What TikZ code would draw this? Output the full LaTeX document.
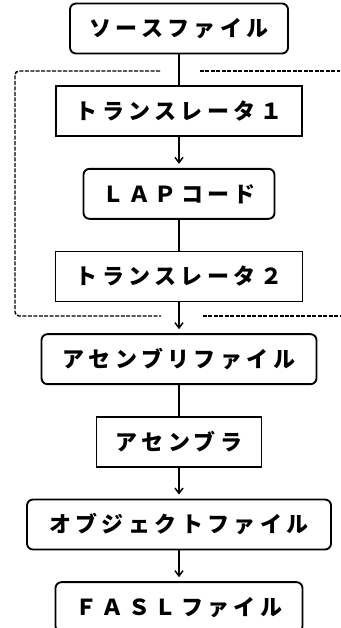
\documentclass[tikz,border=0pt]{standalone}
\usepackage{fontspec}
\newfontfamily\jpfont[LetterSpace=20]{Noto Sans CJK JP}
\usetikzlibrary{arrows.meta, positioning}

\begin{document}
\begin{tikzpicture}[ % Starts the TikZ drawing environment
        x=0.75pt, y=0.75pt, % One unit per pixel
        node distance=23.1pt, % Vertical gap between the boxes
        every node/.style={font=\jpfont\bfseries\fontsize{16.5}{20}\selectfont, inner sep=0pt, minimum height=37.5pt}, % Default style for all nodes
        filebox/.style={rectangle, rounded corners=4.5pt, draw, line width=1.4pt}, % Rounded boxes for files
        procbox/.style={rectangle, draw, line width=1.4pt}, % Square boxes for the programs
        myline/.style={line width=1.1pt}, % Plain connector
        myarrow/.style={line width=1.1pt, shorten >=3pt, -{Straight Barb[length=4pt, width=6pt]}}, % Connector with a head
        dashline/.style={line width=1.1pt, dash pattern=on 3pt off 1.1pt} % Frame round the translators
    ]
    \useasboundingbox (0,0) rectangle (340,-628);
    % --- TikZ Nodes (positioning and content) ---
    \node (src) [filebox, minimum width=163.5pt] at (179,-28.5) {ソースファイル};
    \node (tr1) [procbox, below=of src, minimum width=184.5pt] {トランスレータ１};
    \node (lap) [filebox, below=of tr1, minimum width=143.25pt] {ＬＡＰコード};
    \node (tr2) [procbox, below=of lap, minimum width=185.25pt] {トランスレータ２};
    \node (asmf) [filebox, below=of tr2, minimum width=206.25pt] {アセンブリファイル};
    \node (asm) [procbox, below=of asmf, minimum width=123.75pt] {アセンブラ};
    \node (obj) [filebox, below=of asm, minimum width=228pt] {オブジェクトファイル};
    \node (fasl) [filebox, below=of obj, minimum width=185.25pt] {ＦＡＳＬファイル};
    % --- Dashed frame ---
    \draw[dashline, rounded corners=3pt] (160,-71) -| (15,-316) -- (161,-316);
    \draw[dashline] (200,-71) -- (340,-71);
    \draw[dashline] (203,-316) -- (340,-316);
    % --- TikZ Connections ---
    \draw[myline] (src) -- (tr1);
    \draw[myarrow] (tr1) -- (lap);
    \draw[myline] (lap) -- (tr2);
    \draw[myarrow] (tr2) -- (asmf);
    \draw[myline] (asmf) -- (asm);
    \draw[myarrow] (asm) -- (obj);
    \draw[myarrow] (obj) -- (fasl);
\end{tikzpicture}
\end{document}
